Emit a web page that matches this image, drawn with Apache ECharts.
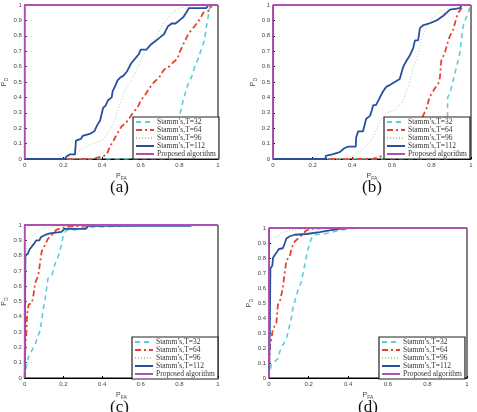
<!DOCTYPE html>
<html>
<head>
<meta charset="utf-8">
<script src="https://cdn.jsdelivr.net/npm/echarts@6/dist/echarts.min.js"></script>
<style>
html, body { margin: 0; padding: 0; background: #fff; }
#roc { width: 477px; height: 412px; }
</style>
</head>
<body>
<div id="roc"></div>
<script>
// legend names (same order in every panel)
const names = ['Stamm’s,T=32', 'Stamm’s,T=64', 'Stamm’s,T=96', 'Stamm’s,T=112', 'Proposed algorithm']
const panelLabels = ['(a)', '(b)', '(c)', '(d)']
const xTicks = [0, 0.2, 0.4, 0.6, 0.8, 1]

// [P_FA, P_D] pairs
const a_T32 = [[0, 0], [0.79, 0], [0.805, 0.3], [0.82, 0.38], [0.84, 0.47], [0.865, 0.54], [0.88, 0.6], [0.9, 0.66], [0.915, 0.72], [0.93, 0.77], [0.94, 0.86], [0.95, 0.93], [0.958, 0.99], [1, 1]]
const a_T64 = [[0, 0], [0.35, 0], [0.38, 0.01], [0.41, 0.02], [0.425, 0.03], [0.44, 0.08], [0.46, 0.12], [0.476, 0.16], [0.5, 0.21], [0.527, 0.24], [0.56, 0.3], [0.586, 0.34], [0.6, 0.38], [0.62, 0.41], [0.645, 0.46], [0.67, 0.5], [0.696, 0.53], [0.72, 0.58], [0.747, 0.6], [0.77, 0.63], [0.79, 0.65], [0.8, 0.69], [0.815, 0.73], [0.83, 0.77], [0.85, 0.82], [0.865, 0.84], [0.89, 0.88], [0.907, 0.91], [0.924, 0.95], [0.95, 0.96], [0.97, 1], [1, 1]]
const a_T96 = [[0, 0], [0.24, 0], [0.26, 0.02], [0.3, 0.07], [0.35, 0.1], [0.4, 0.12], [0.43, 0.165], [0.46, 0.23], [0.48, 0.32], [0.5, 0.38], [0.52, 0.45], [0.55, 0.51], [0.58, 0.58], [0.6, 0.64], [0.62, 0.69], [0.65, 0.75], [0.68, 0.79], [0.7, 0.84], [0.73, 0.9], [0.76, 0.95], [0.8, 0.98], [0.85, 0.99], [0.9, 1], [1, 1]]
const a_T112 = [[0, 0], [0.206, 0], [0.22, 0.02], [0.235, 0.03], [0.26, 0.03], [0.265, 0.12], [0.29, 0.13], [0.3, 0.15], [0.31, 0.16], [0.34, 0.165], [0.36, 0.18], [0.375, 0.22], [0.39, 0.25], [0.4, 0.26], [0.405, 0.33], [0.42, 0.35], [0.43, 0.38], [0.45, 0.4], [0.455, 0.44], [0.47, 0.48], [0.48, 0.51], [0.495, 0.53], [0.51, 0.54], [0.53, 0.57], [0.55, 0.62], [0.57, 0.65], [0.59, 0.68], [0.6, 0.71], [0.63, 0.71], [0.65, 0.74], [0.67, 0.76], [0.7, 0.79], [0.72, 0.81], [0.74, 0.86], [0.76, 0.88], [0.78, 0.88], [0.8, 0.9], [0.82, 0.92], [0.84, 0.96], [0.85, 0.98], [0.94, 0.98], [0.95, 1], [1, 1]]

const b_T32 = [[0, 0], [0.88, 0], [0.882, 0.4], [0.894, 0.43], [0.91, 0.51], [0.927, 0.6], [0.944, 0.69], [0.953, 0.79], [0.96, 0.86], [0.97, 0.9], [0.987, 0.95], [0.995, 0.99], [1, 1]]
const b_T64 = [[0, 0], [0.5, 0], [0.53, 0.01], [0.573, 0.03], [0.607, 0.045], [0.64, 0.1], [0.675, 0.13], [0.708, 0.165], [0.725, 0.23], [0.75, 0.26], [0.776, 0.33], [0.79, 0.4], [0.818, 0.46], [0.835, 0.49], [0.843, 0.53], [0.85, 0.64], [0.868, 0.69], [0.885, 0.77], [0.894, 0.8], [0.91, 0.84], [0.927, 0.92], [0.936, 0.95], [0.953, 0.98], [0.97, 1], [1, 1]]
const b_T96 = [[0, 0], [0.37, 0], [0.39, 0.01], [0.47, 0.08], [0.506, 0.14], [0.54, 0.25], [0.573, 0.3], [0.62, 0.32], [0.658, 0.38], [0.675, 0.45], [0.69, 0.49], [0.708, 0.6], [0.725, 0.64], [0.75, 0.78], [0.776, 0.86], [0.81, 0.92], [0.843, 0.96], [0.894, 0.98], [0.93, 1], [1, 1]]
const b_T112 = [[0, 0], [0.266, 0], [0.266, 0.02], [0.3, 0.03], [0.337, 0.045], [0.36, 0.07], [0.38, 0.08], [0.418, 0.08], [0.42, 0.14], [0.43, 0.18], [0.455, 0.18], [0.47, 0.26], [0.49, 0.28], [0.5, 0.32], [0.506, 0.35], [0.52, 0.35], [0.54, 0.4], [0.556, 0.44], [0.573, 0.47], [0.59, 0.48], [0.615, 0.5], [0.64, 0.52], [0.658, 0.6], [0.675, 0.64], [0.69, 0.67], [0.708, 0.72], [0.717, 0.77], [0.733, 0.77], [0.742, 0.85], [0.76, 0.87], [0.79, 0.88], [0.826, 0.9], [0.86, 0.93], [0.894, 0.97], [0.944, 0.98], [0.953, 1], [1, 1]]

const c_T32 = [[0, 0], [0.003, 0.04], [0.012, 0.1], [0.02, 0.14], [0.037, 0.18], [0.054, 0.22], [0.062, 0.25], [0.07, 0.28], [0.08, 0.31], [0.088, 0.38], [0.096, 0.455], [0.105, 0.51], [0.113, 0.52], [0.12, 0.65], [0.14, 0.67], [0.155, 0.74], [0.172, 0.79], [0.19, 0.87], [0.2, 0.935], [0.215, 0.965], [0.265, 0.97], [0.3, 0.985], [0.45, 0.99], [0.6, 1], [1, 1]]
const c_T64 = [[0, 0], [0.003, 0.22], [0.008, 0.28], [0.012, 0.41], [0.02, 0.48], [0.037, 0.49], [0.046, 0.55], [0.054, 0.62], [0.062, 0.62], [0.07, 0.67], [0.08, 0.76], [0.088, 0.83], [0.105, 0.87], [0.12, 0.91], [0.147, 0.945], [0.164, 0.97], [0.19, 0.98], [0.23, 0.99], [0.4, 1], [1, 1]]
const c_T96 = [[0, 0], [0.002, 0.6], [0.01, 0.88], [0.02, 0.9], [0.04, 0.93], [0.06, 0.95], [0.08, 0.97], [0.1, 0.98], [0.15, 0.99], [0.3, 1], [1, 1]]
const c_T112 = [[0, 0], [0.003, 0.8], [0.015, 0.81], [0.025, 0.84], [0.037, 0.86], [0.05, 0.88], [0.06, 0.9], [0.076, 0.9], [0.083, 0.92], [0.105, 0.935], [0.13, 0.945], [0.19, 0.955], [0.206, 0.975], [0.316, 0.975], [0.33, 0.995], [0.856, 0.995], [0.87, 1], [1, 1]]

const d_T32 = [[0, 0], [0.003, 0.04], [0.012, 0.09], [0.029, 0.11], [0.045, 0.13], [0.054, 0.175], [0.07, 0.22], [0.088, 0.26], [0.1, 0.33], [0.113, 0.4], [0.12, 0.46], [0.13, 0.51], [0.146, 0.585], [0.163, 0.64], [0.18, 0.75], [0.197, 0.86], [0.214, 0.93], [0.23, 0.955], [0.29, 0.963], [0.357, 0.985], [0.41, 0.995], [0.45, 1], [1, 1]]
const d_T64 = [[0, 0], [0.003, 0.2], [0.012, 0.26], [0.02, 0.33], [0.037, 0.36], [0.045, 0.49], [0.057, 0.52], [0.07, 0.6], [0.08, 0.71], [0.088, 0.785], [0.105, 0.81], [0.113, 0.86], [0.13, 0.91], [0.155, 0.94], [0.17, 0.96], [0.19, 0.985], [0.22, 0.995], [0.29, 1], [1, 1]]
const d_T96 = [[0, 0], [0.002, 0.7], [0.005, 0.93], [0.02, 0.94], [0.05, 0.94], [0.06, 0.97], [0.1, 0.98], [0.15, 0.99], [0.25, 1], [1, 1]]
const d_T112 = [[0, 0], [0.004, 0.3], [0.007, 0.73], [0.017, 0.75], [0.02, 0.8], [0.029, 0.82], [0.04, 0.84], [0.05, 0.86], [0.07, 0.865], [0.08, 0.9], [0.088, 0.93], [0.105, 0.945], [0.13, 0.955], [0.19, 0.96], [0.256, 0.973], [0.306, 0.984], [0.357, 0.995], [0.41, 1], [1, 1]]

const proposed = [[0, 0], [0, 1], [1, 1]]

const panels = [
    [a_T32, a_T64, a_T96, a_T112],
    [b_T32, b_T64, b_T96, b_T112],
    [c_T32, c_T64, c_T96, c_T112],
    [d_T32, d_T64, d_T96, d_T112]
]

let chart = echarts.init(document.getElementById('roc'))

// plot boxes [left, top, width, height]
const boxes = [
    [21, 5, 197, 154],
    [273, 5, 198, 154],
    [21, 225, 197, 153],
    [269, 228, 198, 150]
]
const legendPos = [
    [133, 117],
    [384, 117],
    [132, 337],
    [379, 337]
]

const lineStyles = [
    { color: '#5ccfd6', width: 1.6, type: [5, 4] },
    { color: '#e5432f', width: 1.8, type: [6, 3, 2, 3] },
    { color: '#a6d69a', width: 1, type: [1, 2] },
    { color: '#2b4f9c', width: 1.8, type: 'solid' },
    { color: '#b04fb2', width: 1.8, type: 'solid' }
]

const axisLabel = { fontSize: 6, color: '#444', fontFamily: 'Liberation Sans', margin: 3 }
const nameRich = {
    p: { fontSize: 7, color: '#444', fontFamily: 'Liberation Sans' },
    s: { fontSize: 5, color: '#444', fontFamily: 'Liberation Sans', padding: [5, 0, 0, 0] }
}

let grid = [], xAxis = [], yAxis = [], legend = [], series = [], graphic = []
boxes.forEach((b, i) => {
    grid.push({ left: b[0], top: b[1], width: b[2], height: b[3], show: true, borderColor: '#000', borderWidth: 1, backgroundColor: '#fff' })
    xAxis.push({
        gridIndex: i, type: 'value', min: 0, max: 1, interval: 0.2,
        axisLine: { lineStyle: { color: '#000', width: 1 } },
        axisTick: { inside: true, length: 2, lineStyle: { color: '#000' } },
        splitLine: { show: false },
        axisLabel: axisLabel,
        name: '{p|P}{s|FA}', nameLocation: 'middle', nameGap: 12,
        nameTextStyle: { rich: nameRich }
    })
    yAxis.push({
        gridIndex: i, type: 'value', min: 0, max: 1, interval: 0.1,
        axisLine: { lineStyle: { color: '#000', width: 1 } },
        axisTick: { inside: true, length: 2, lineStyle: { color: '#000' } },
        splitLine: { show: false },
        axisLabel: axisLabel,
        name: '{p|P}{s|D}', nameLocation: 'middle', nameGap: 15,
        nameTextStyle: { rich: nameRich }
    })
    legend.push({
        orient: 'vertical', left: legendPos[i][0], top: legendPos[i][1],
        data: names, padding: [1, 3, 1, 2], itemGap: 0, itemWidth: 18, itemHeight: 6,
        borderColor: '#222', borderWidth: 1.2, backgroundColor: '#fff',
        itemStyle: { opacity: 0 },
        textStyle: { fontSize: 7.5, lineHeight: 7.5, fontFamily: 'Liberation Serif', color: '#333', padding: [0, 0, 0, -2] },
        selectedMode: false
    })
    panels[i].forEach((d, k) => {
        series.push({
            name: names[k], type: 'line', xAxisIndex: i, yAxisIndex: i,
            data: d, symbol: 'none', lineStyle: lineStyles[k], itemStyle: { color: lineStyles[k].color }
        })
    })
    series.push({
        name: names[4], type: 'line', xAxisIndex: i, yAxisIndex: i,
        data: proposed, symbol: 'none', clip: false, lineStyle: lineStyles[4], itemStyle: { color: lineStyles[4].color }
    })
    graphic.push({
        type: 'text', x: b[0] + b[2] / 2, y: i < 2 ? 188 : 408,
        style: { text: panelLabels[i], fontSize: 17, fontFamily: 'Liberation Serif', fill: '#111', align: 'center', verticalAlign: 'middle' }
    })
})

let option = {
    backgroundColor: '#fff',
    animation: false,
    grid: grid,
    xAxis: xAxis,
    yAxis: yAxis,
    legend: legend,
    series: series,
    graphic: graphic
}
chart.setOption(option)
</script>
</body>
</html>
